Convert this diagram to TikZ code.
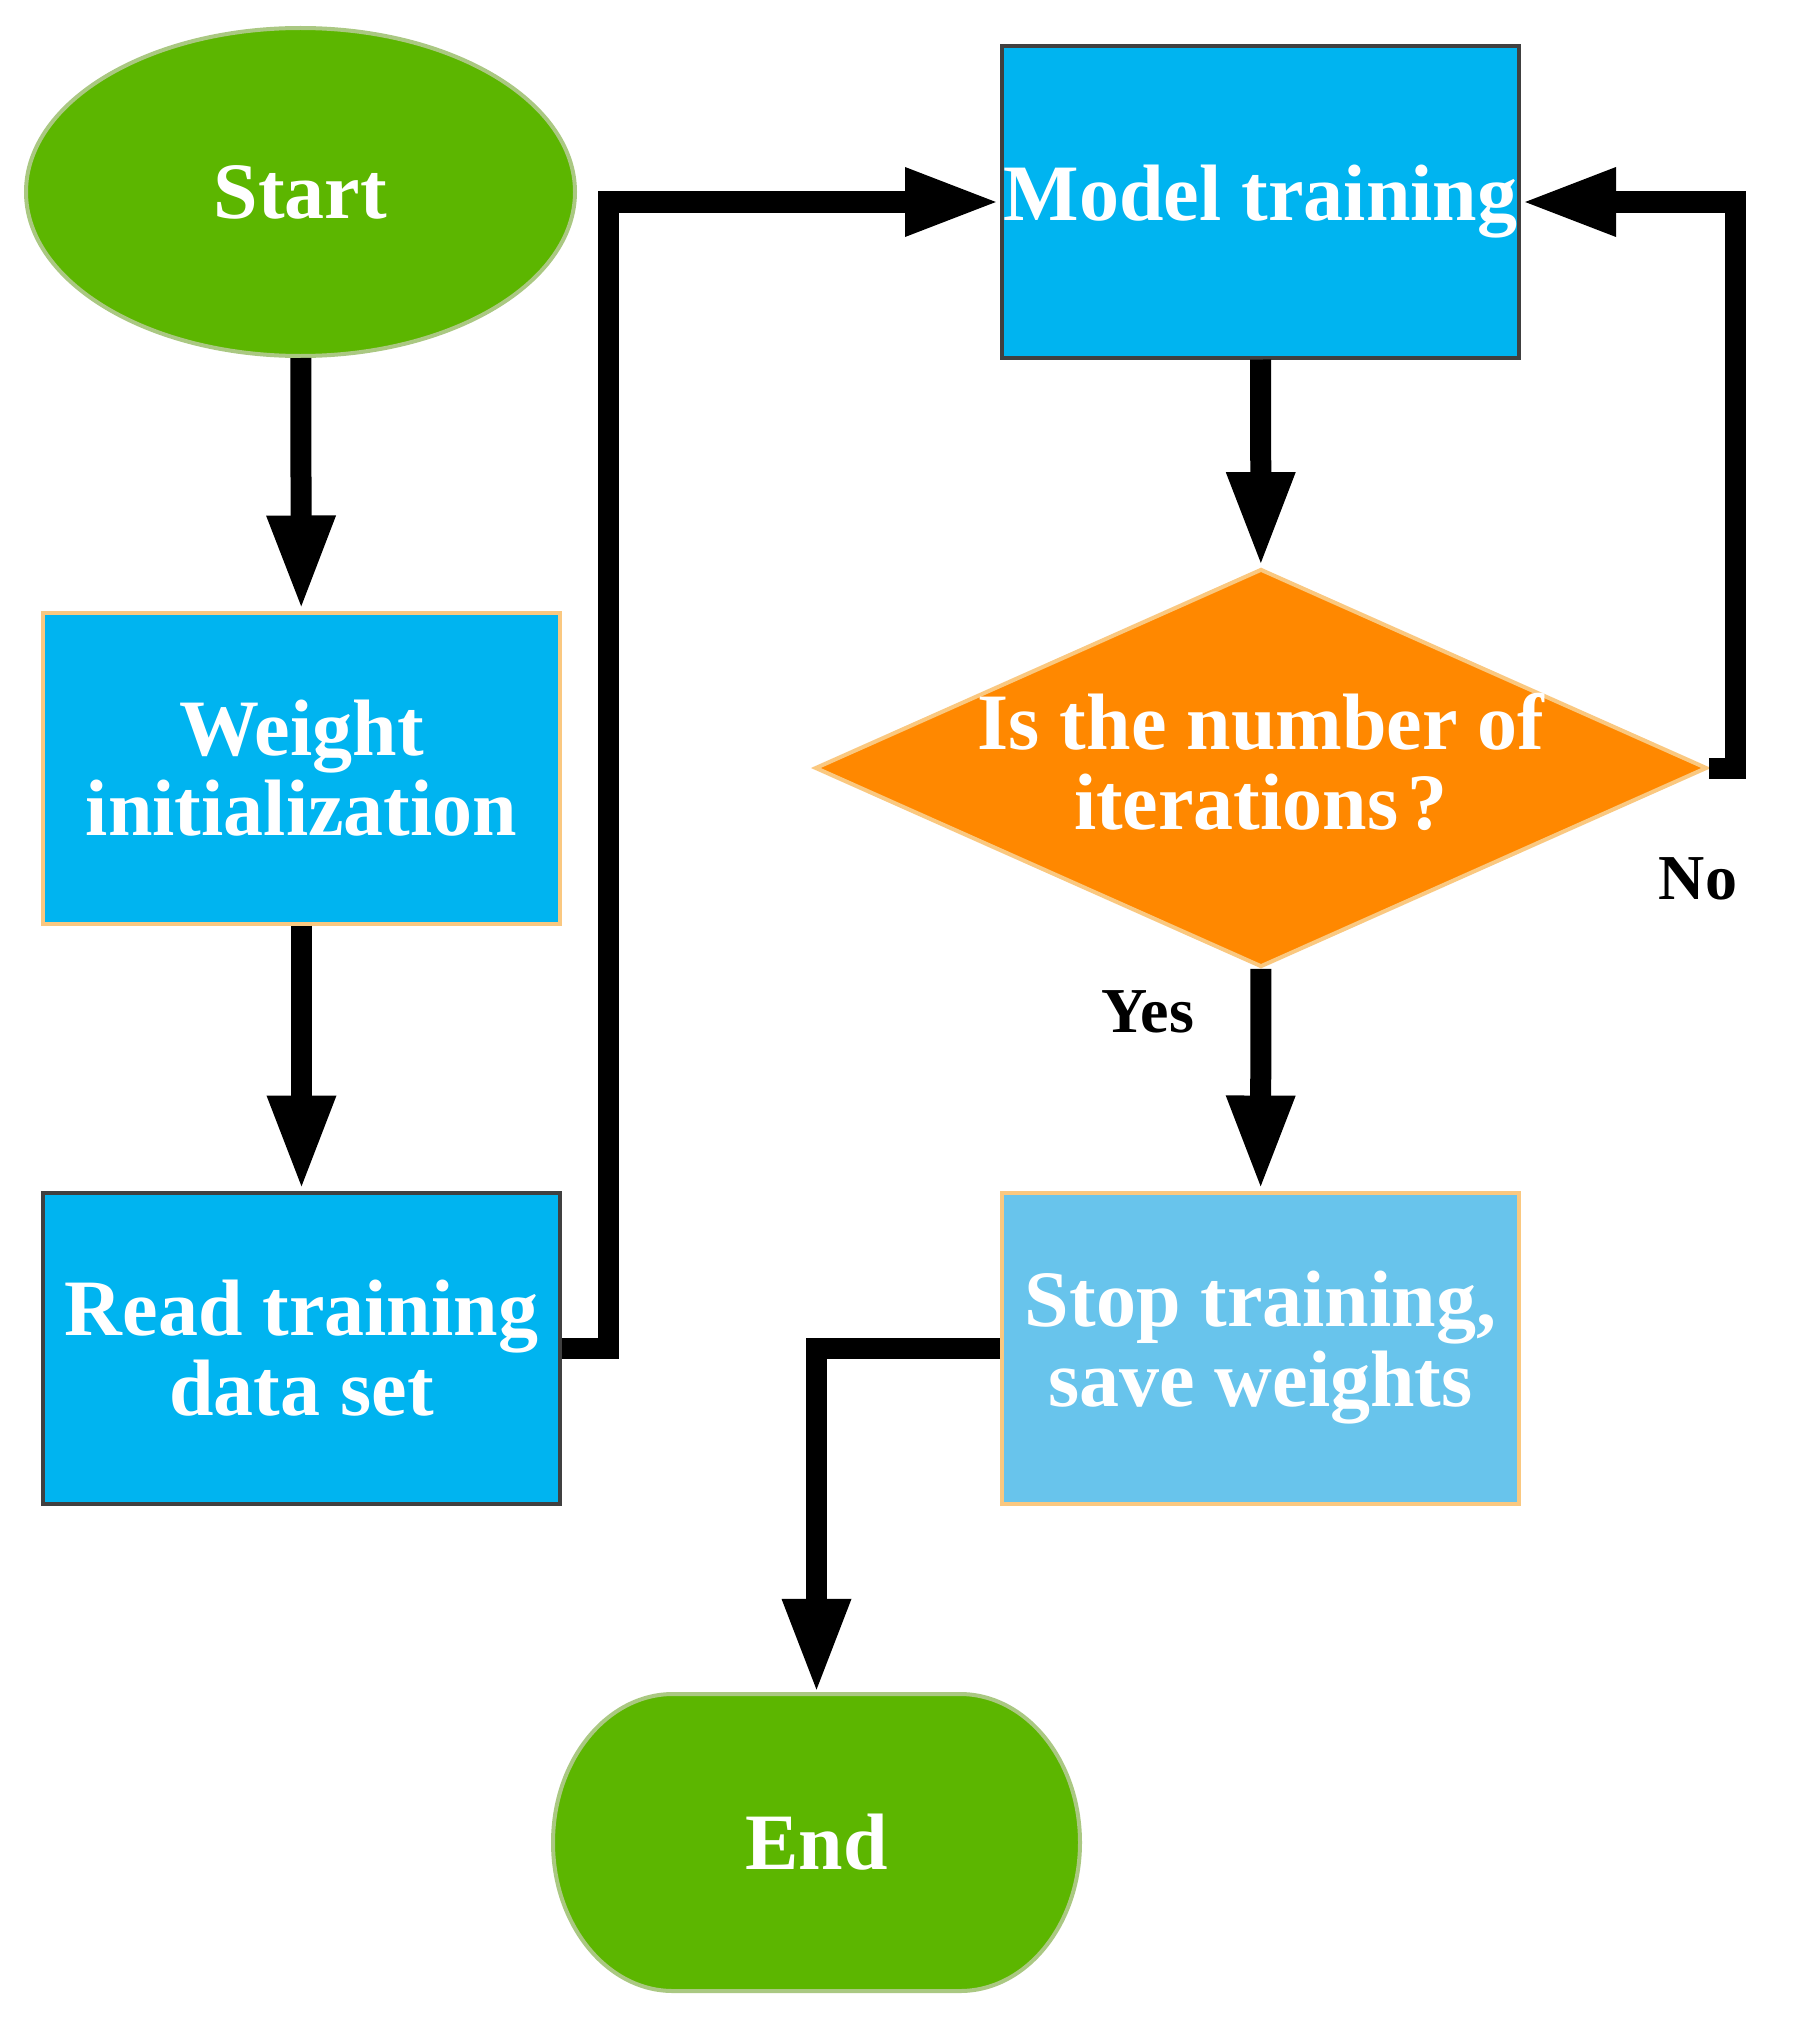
\documentclass[tikz,border=0pt]{standalone}
\usepackage{fontspec}
\setmainfont{Liberation Serif}
\usetikzlibrary{shapes.geometric,arrows.meta}
\definecolor{sgreen}{RGB}{92,182,0}
\definecolor{sgreenb}{RGB}{170,200,130}
\definecolor{scyan}{RGB}{0,180,240}
\definecolor{slightblue}{RGB}{104,196,236}
\definecolor{sorange}{RGB}{255,136,0}
\definecolor{spale}{RGB}{250,200,128}
\definecolor{sdark}{RGB}{64,64,64}
\begin{document}
\begin{tikzpicture}[x=1pt,y=-1pt,
  txt/.style={font=\fontsize{80}{80}\selectfont\bfseries, text=white, align=center, inner sep=0pt},
  box/.style={txt, rectangle, minimum width=517pt, minimum height=311pt, line width=4pt, fill=scyan},
  conn/.style={line width=21pt, -{Triangle[width=63pt,length=95pt]}},
  lab/.style={font=\fontsize{64}{64}\selectfont\bfseries, text=black, inner sep=0pt}
]
\useasboundingbox (0,0) rectangle (1792,2028);

\node[txt, ellipse, minimum width=549pt, minimum height=328pt, fill=sgreen, draw=sgreenb, line width=4pt] (start) at (300.5,192) {Start};
\node[box, draw=spale] (weight) at (301.5,768) {Weight\\initialization};
\node[box, draw=sdark] (read) at (301.5,1348) {Read training\\data set};
\node[box, draw=sdark] (model) at (1260.5,202) {Model training};
\node[diamond, minimum width=892pt, minimum height=398pt, inner sep=0pt, fill=sorange, draw=spale, line width=4pt] (dec) at (1261,768) {};
\node[txt] (dectext) at (1261,762) {Is the number of\\iterations\hspace{0.12em}?};
\node[box, fill=slightblue, draw=spale] (stop) at (1260.5,1348) {Stop training,\\save weights};

\path[fill=sgreen, draw=sgreenb, line width=4pt] (673,1694) -- (960,1694)
  arc[start angle=-90, end angle=90, x radius=120, y radius=148.5] -- (673,1991)
  arc[start angle=90, end angle=270, x radius=120, y radius=148.5] -- cycle;
\node[txt, minimum width=527pt, minimum height=297pt] (endn) at (816.5,1842.5) {End};

\draw[conn] (start) -- (weight);
\draw[conn] (weight) -- (read);
\draw[conn] (read.east) -- ++(46,0) |- (model.west);
\draw[conn] (model) -- (dec);
\draw[conn] (dec) -- (stop);
\draw[conn] (dec.east) -- ++(26,0) |- (model.east);
\draw[conn] (stop.west) -| (endn.north);

\node[lab] (yes) at (1148,1012) {Yes};
\node[lab] (no) at (1698,879) {No};
\end{tikzpicture}
\end{document}
